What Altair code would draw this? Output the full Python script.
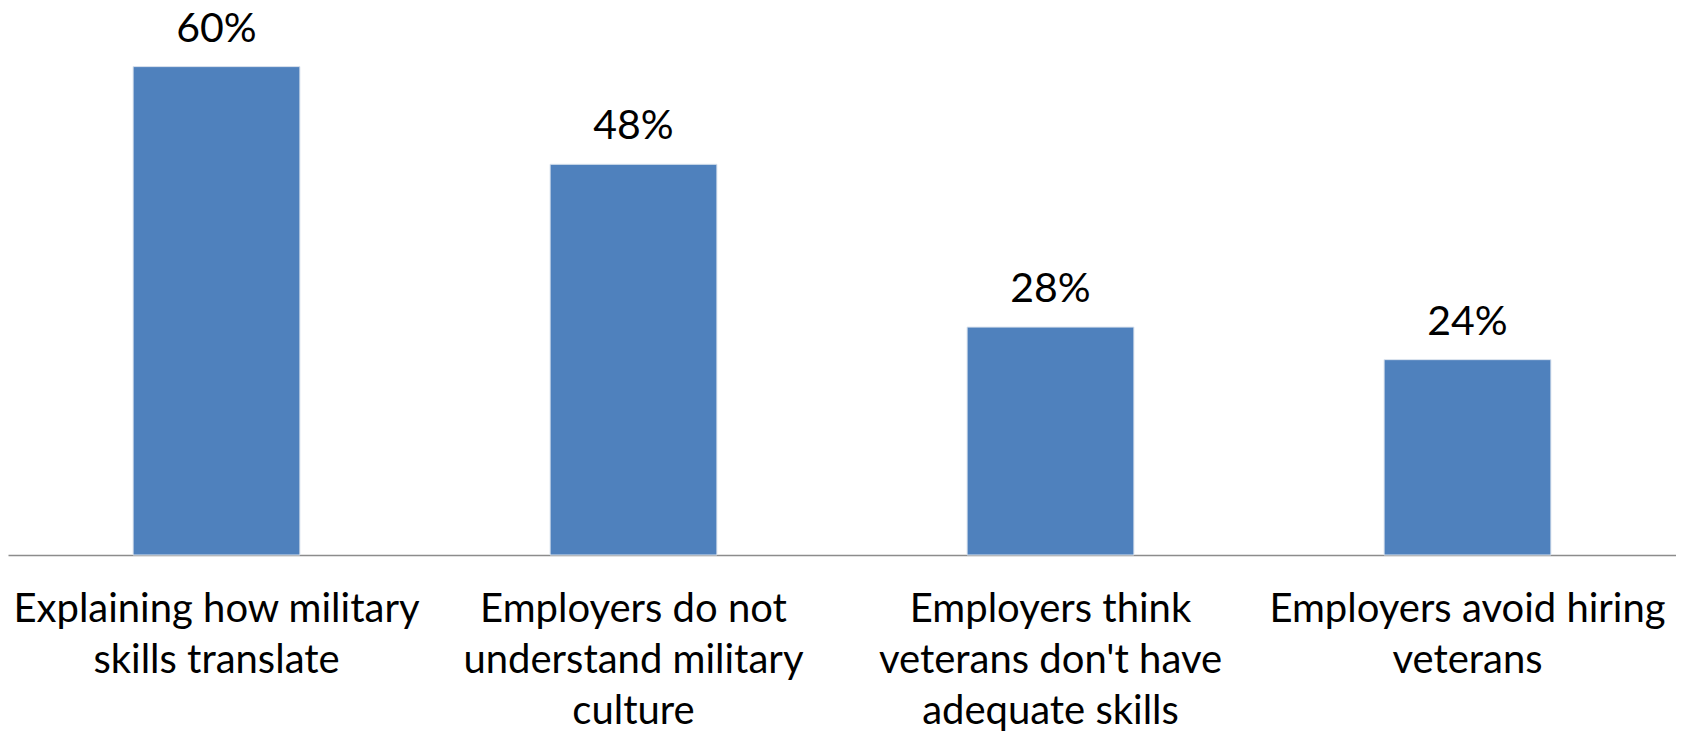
import altair as alt
import pandas as pd

categories = [
    "Explaining how military|skills translate",
    "Employers do not|understand military|culture",
    "Employers think|veterans don't have|adequate skills",
    "Employers avoid hiring|veterans",
]
values = [60, 48, 28, 24]
value_labels = ["60%", "48%", "28%", "24%"]

df = pd.DataFrame({"cat": categories, "val": values, "lab": value_labels})

FONT = "Lato"

x = alt.X("cat:N", sort=categories, title=None,
          scale=alt.Scale(paddingInner=0.6, paddingOuter=0.3),
          axis=alt.Axis(labelExpr="split(datum.label, '|')", labelAngle=0,
                        labelFontSize=40, labelFont=FONT, labelColor="#000000",
                        labelLineHeight=51, labelPadding=54, labelBaseline="middle",
                        ticks=False, domainColor="#8c8c8c", domainWidth=1.5,
                        labelLimit=0))
y = alt.Y("val:Q", title=None, scale=alt.Scale(domain=[0, 67.2], nice=False, zero=True),
          axis=None)

bars = alt.Chart(df).mark_bar(color="#4F81BD", stroke="#dbe3ee", strokeWidth=1).encode(x=x, y=y)
text = alt.Chart(df).mark_text(baseline="alphabetic", dy=-25, fontSize=41, font=FONT,
                               color="#000000").encode(x=x, y=y, text="lab:N")

chart = (bars + text).properties(width=1668, height=547, padding=0).configure(
    background="white", view=alt.ViewConfig(stroke=None))

chart.save("out.html", embed_options={"renderer": "svg", "actions": False})
